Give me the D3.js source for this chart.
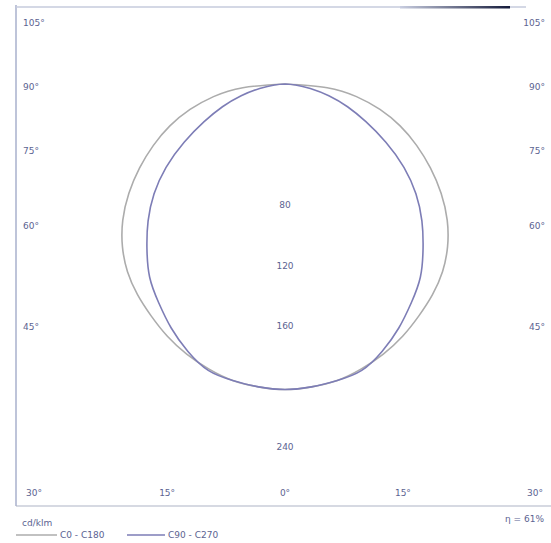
<!DOCTYPE html>
<html lang="en">
<head>
    <meta charset="UTF-8">
    <title>Light distribution curve</title>
    <script src="https://d3js.org/d3.v7.min.js"></script>
    <style>
        body { margin: 0; background: #fff; }
        svg text { font-family: "DejaVu Sans", sans-serif; font-size: 9px; fill: #5c6391; }
    </style>
</head>
<body>
    <svg id="chart" width="551" height="543"></svg>
    <script>
        // polar data, angle from nadir (deg) -> intensity (cd/klm)
        const angles = [0, 5, 10, 15, 20, 25, 30, 35, 40, 45, 50, 55, 60, 65, 70, 75, 80, 85, 90];
        const c0c180 = [202, 201, 199, 195, 190, 184, 177, 170, 162, 152, 140, 126, 111, 96, 81, 65, 48, 28, 0];
        const c90c270 = [202, 201, 199, 196, 188, 178, 167, 156, 142, 128, 113, 96, 77, 59, 44, 30, 17, 7, 0];
        const radialTicks = [80, 120, 160, 240];
        const sideAngles = [105, 90, 75, 60, 45];
        const bottomAngles = [-30, -15, 0, 15, 30];
        const unitLabel = 'cd/klm';
        const efficiency = 'η = 61%';

        const svg = d3.select('#chart');
        const cx = 285, cy = 84;
        const r = d3.scaleLinear().domain([0, 240]).range([0, 363]);
        const toRad = d => d * Math.PI / 180;

        // frame
        const defs = svg.append('defs');
        const grad = defs.append('linearGradient').attr('id', 'topGrad');
        grad.append('stop').attr('offset', '0%').attr('stop-color', '#c8cde0');
        grad.append('stop').attr('offset', '100%').attr('stop-color', '#141a3a');
        svg.append('line').attr('x1', 16).attr('x2', 16).attr('y1', 5).attr('y2', 506)
            .attr('stroke', '#a9b0cc').attr('stroke-width', 1.5);
        svg.append('line').attr('x1', 16).attr('x2', 526).attr('y1', 7).attr('y2', 7)
            .attr('stroke', '#c6cbdc').attr('stroke-width', 1.5);
        svg.append('rect').attr('x', 400).attr('y', 6).attr('width', 110).attr('height', 2.5)
            .attr('fill', 'url(#topGrad)');
        svg.append('line').attr('x1', 16).attr('x2', 551).attr('y1', 506).attr('y2', 506)
            .attr('stroke', '#aeb3c6').attr('stroke-width', 1.2);

        // curves
        function fullCurve(values) {
            const pts = [];
            for (let i = angles.length - 1; i > 0; i--) pts.push([-angles[i], values[i]]);
            angles.forEach((a, i) => pts.push([a, values[i]]));
            return pts;
        }
        const radial = d3.lineRadial()
            .angle(d => Math.PI - toRad(d[0]))
            .radius(d => r(d[1]))
            .curve(d3.curveNatural);
        const g = svg.append('g').attr('transform', `translate(${cx},${cy})`);
        g.append('path').attr('d', radial(fullCurve(c0c180)))
            .attr('fill', 'none').attr('stroke', '#acacac').attr('stroke-width', 1.6);
        g.append('path').attr('d', radial(fullCurve(c90c270)))
            .attr('fill', 'none').attr('stroke', '#7d7db6').attr('stroke-width', 1.6);

        // radial value labels
        svg.selectAll('.rlab').data(radialTicks).enter().append('text')
            .attr('x', cx).attr('y', d => cy + r(d) + 3)
            .attr('text-anchor', 'middle').text(d => d);

        // angle labels on the sides
        sideAngles.forEach(a => {
            const y = cy + 240 / Math.tan(toRad(a)) + 6;
            svg.append('text').attr('x', 23).attr('y', y).text(a + '°');
            svg.append('text').attr('x', 545).attr('y', y).attr('text-anchor', 'end').text(a + '°');
        });
        // angle labels at the bottom
        bottomAngles.forEach(a => {
            const x = Math.min(535, Math.max(34, cx + 440 * Math.tan(toRad(a))));
            svg.append('text').attr('x', x).attr('y', 496)
                .attr('text-anchor', 'middle').text(Math.abs(a) + '°');
        });

        // unit, efficiency, legend
        svg.append('text').attr('x', 22).attr('y', 526).text(unitLabel);
        svg.append('text').attr('x', 544).attr('y', 522).attr('text-anchor', 'end').text(efficiency);
        const legend = [
            { name: 'C0 - C180', color: '#acacac', x: 16, len: 41 },
            { name: 'C90 - C270', color: '#7d7db6', x: 127, len: 38 }
        ];
        legend.forEach(l => {
            svg.append('line').attr('x1', l.x).attr('x2', l.x + l.len).attr('y1', 535).attr('y2', 535)
                .attr('stroke', l.color).attr('stroke-width', 1.6);
            svg.append('text').attr('x', l.x + l.len + 3).attr('y', 538).text(l.name);
        });
    </script>
</body>
</html>
